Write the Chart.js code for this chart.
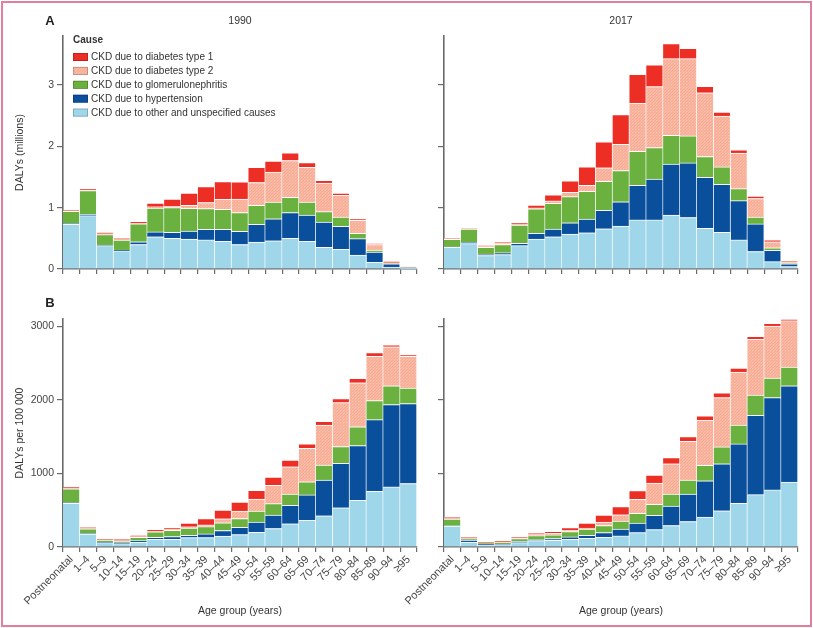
<!DOCTYPE html>
<html>
<head>
<meta charset="utf-8">
<script src="https://cdn.jsdelivr.net/npm/chart.js@4.4.1/dist/chart.umd.min.js"></script>
<style>
  html, body { margin:0; padding:0; background:#fff; }
  body { width:813px; height:628px; position:relative; overflow:hidden; }
  #frame { position:absolute; left:1px; top:1px; width:807px; height:622px; border:2px solid #e2809b; box-sizing:content-box; }
  canvas { position:absolute; }
</style>
</head>
<body>
<div id="frame"></div>
<canvas id="tl" width="430" height="279" style="left:0;top:0;width:430px;height:279px"></canvas>
<canvas id="tr" width="413" height="279" style="left:400px;top:0;width:413px;height:279px"></canvas>
<canvas id="bl" width="430" height="338" style="left:0;top:290px;width:430px;height:338px"></canvas>
<canvas id="br" width="413" height="338" style="left:400px;top:290px;width:413px;height:338px"></canvas>
<script>
// ---------- DATA ----------
const ageGroups = ['Postneonatal','1–4','5–9','10–14','15–19','20–24','25–29','30–34','35–39','40–44','45–49','50–54','55–59','60–64','65–69','70–74','75–79','80–84','85–89','90–94','≥95'];
const causeNames = ['CKD due to other and unspecified causes','CKD due to hypertension','CKD due to glomerulonephritis','CKD due to diabetes type 2','CKD due to diabetes type 1'];

// Panel A: DALYs (millions), 1990
const count1990Other = [0.73,0.87,0.38,0.295,0.40,0.525,0.50,0.49,0.475,0.45,0.40,0.44,0.46,0.50,0.45,0.355,0.32,0.225,0.11,0.03,0.005];
const count1990Hyp   = [0.01,0.02,0.01,0.015,0.045,0.08,0.10,0.13,0.17,0.195,0.215,0.29,0.36,0.42,0.43,0.41,0.375,0.27,0.165,0.055,0.02];
const count1990Glom  = [0.20,0.39,0.17,0.16,0.29,0.39,0.40,0.37,0.34,0.33,0.305,0.31,0.27,0.25,0.21,0.17,0.15,0.085,0.035,0.005,0.002];
const count1990T2    = [0.01,0.01,0.015,0.025,0.015,0.02,0.02,0.05,0.10,0.16,0.22,0.37,0.49,0.60,0.57,0.465,0.355,0.215,0.09,0.01,0.003];
const count1990T1    = [0.01,0.02,0.02,0.012,0.025,0.06,0.12,0.20,0.26,0.29,0.28,0.25,0.18,0.125,0.075,0.045,0.04,0.025,0.015,0.025,0.002];

// Panel A: DALYs (millions), 2017
const count2017Other = [0.355,0.415,0.22,0.235,0.38,0.486,0.525,0.57,0.59,0.655,0.70,0.80,0.80,0.88,0.84,0.665,0.60,0.475,0.285,0.12,0.04];
const count2017Hyp   = [0.005,0.02,0.025,0.03,0.04,0.095,0.125,0.185,0.225,0.30,0.395,0.565,0.665,0.83,0.89,0.83,0.78,0.64,0.45,0.185,0.045];
const count2017Glom  = [0.125,0.215,0.11,0.135,0.295,0.40,0.42,0.425,0.45,0.475,0.51,0.555,0.515,0.47,0.44,0.34,0.285,0.195,0.11,0.04,0.005];
const count2017T2    = [0.01,0.01,0.01,0.02,0.015,0.015,0.04,0.07,0.10,0.22,0.43,0.78,0.995,1.25,1.26,1.04,0.83,0.58,0.305,0.10,0.02];
const count2017T1    = [0.01,0.01,0.015,0.015,0.02,0.045,0.10,0.19,0.30,0.425,0.485,0.475,0.355,0.245,0.17,0.105,0.065,0.055,0.04,0.03,0.015];

// Panel B: DALYs per 100 000, 1990
const rate1990Other = [595,174,59,46,68,105,105,128,128,150,169,200,251,315,361,425,534,635,758,817,863];
const rate1990Hyp   = [8,8,8,12,18,27,37,32,50,74,100,138,183,251,347,484,603,744,973,1119,1087];
const rate1990Glom  = [187,64,24,20,46,73,86,96,100,105,119,151,155,155,178,205,228,256,260,256,210];
const rate1990T2    = [10,8,6,8,8,12,10,18,22,55,101,164,251,370,456,544,598,598,603,529,434];
const rate1990T1    = [13,10,13,20,20,16,27,50,87,118,123,119,110,92,60,50,55,59,50,28,18];

// Panel B: DALYs per 100 000, 2017
const rate2017Other = [283,68,23,32,59,87,91,105,119,132,151,196,237,292,347,406,493,594,712,776,881];
const rate2017Hyp   = [5,23,18,9,19,13,23,32,41,64,91,128,192,265,374,494,639,808,1078,1256,1311];
const rate2017Glom  = [91,19,9,18,36,55,50,73,82,96,110,133,151,164,188,210,229,256,274,265,255];
const rate2017T2    = [9,9,5,9,9,14,23,14,14,46,86,191,288,411,529,611,671,721,758,708,631];
const rate2017T1    = [18,13,9,10,9,18,23,41,68,96,110,119,109,83,64,64,64,55,41,36,18];

const countTicks = [0,1,2,3];
const rateTicks = [0,1000,2000,3000];

// ---------- STYLE ----------
const FONT = '"Liberation Sans", Arial, sans-serif';
Chart.defaults.font.family = FONT;
const AXIS = '#6a6a6a';

function t2Pattern() {
  const c = document.createElement('canvas');
  c.width = 3; c.height = 3;
  const x = c.getContext('2d');
  x.fillStyle = '#f9b6a1'; x.fillRect(0,0,3,3);
  x.fillStyle = '#f5aa94';
  x.fillRect(0,0,1,1); x.fillRect(2,1,1,1); x.fillRect(1,2,1,1);
  x.fillStyle = '#fbc2b0';
  x.fillRect(1,0,1,1);
  return x.createPattern(c, 'repeat');
}
const colors = ['#9fd6e9', '#0a4f9b', '#6bb13f', null, '#ec2e25'];

function datasets(series) {
  const pat = t2Pattern();
  return series.map((d, i) => ({
    label: causeNames[i],
    data: d,
    backgroundColor: i === 3 ? pat : colors[i],
    borderColor: 'rgba(255,255,255,0.85)',
    borderWidth: {top: 1, right: 1, left: 0, bottom: 0},
    borderSkipped: false,
    barPercentage: 1,
    categoryPercentage: 1,
    stack: 's'
  }));
}

const textPlugin = {
  id: 'panelText',
  afterDraw(chart, args, o) {
    const ctx = chart.ctx, ca = chart.chartArea;
    ctx.save();
    ctx.textBaseline = 'middle';
    if (o.year) {
      ctx.font = '10.5px ' + FONT;
      ctx.fillStyle = '#333';
      ctx.textAlign = 'center';
      ctx.fillText(o.year, (ca.left + ca.right) / 2, o.yearY);
    }
    if (o.letter) {
      ctx.font = 'bold 13px ' + FONT;
      ctx.fillStyle = '#222';
      ctx.textAlign = 'center';
      ctx.fillText(o.letter, o.letterX, o.letterY);
    }
    if (o.legend) {
      ctx.textAlign = 'left';
      ctx.font = 'bold 10px ' + FONT;
      ctx.fillStyle = '#333';
      ctx.fillText('Cause', 73, 40);
      ctx.font = '10px ' + FONT;
      const ds = chart.data.datasets;
      for (let k = 0; k < 5; k++) {
        const d = ds[4 - k];
        const y = 57 + k * 13.9;
        ctx.fillStyle = d.backgroundColor;
        ctx.fillRect(73, y - 4, 15, 8);
        ctx.strokeStyle = 'rgba(0,0,0,0.25)';
        ctx.lineWidth = 0.8;
        ctx.strokeRect(73.4, y - 3.6, 14.2, 7.2);
        ctx.fillStyle = '#333';
        ctx.fillText(d.label, 91, y + 0.5);
      }
    }
    ctx.restore();
  }
};

function makeChart(id, series, cfg) {
  const tickVals = cfg.tickVals;
  return new Chart(document.getElementById(id), {
    type: 'bar',
    data: { labels: ageGroups, datasets: datasets(series) },
    plugins: [textPlugin],
    options: {
      responsive: false,
      animation: false,
      devicePixelRatio: 1,
      layout: { padding: cfg.padding },
      plugins: {
        legend: { display: false },
        tooltip: { enabled: false },
        panelText: cfg.text
      },
      scales: {
        x: {
          stacked: true,
          offset: true,
          grid: { display: true, offset: true, drawOnChartArea: false, drawTicks: true, tickLength: 5, color: AXIS, lineWidth: 1.2 },
          border: { display: true, color: AXIS, width: 1.6 },
          ticks: cfg.xLabels ? {
            display: true, autoSkip: false, minRotation: 45, maxRotation: 45,
            font: { size: 11 }, color: '#444', padding: 1
          } : { display: false },
          title: cfg.xLabels ? {
            display: true, text: 'Age group (years)', color: '#333',
            font: { size: 10.5 }, padding: { top: 0, bottom: 10.5 }
          } : { display: false },
          afterFit: s => { s.height = cfg.xHeight; }
        },
        y: {
          stacked: true,
          min: 0,
          max: cfg.yMax,
          afterBuildTicks: s => { s.ticks = tickVals.map(v => ({ value: v })); },
          grid: { display: true, drawOnChartArea: false, drawTicks: true, tickLength: 6, color: AXIS, lineWidth: 1.2 },
          border: { display: true, color: AXIS, width: 1.6 },
          ticks: cfg.yLabels ? {
            display: true, font: { size: 10.5 }, color: '#444', padding: 3,
            callback: v => String(v)
          } : { display: false },
          title: cfg.yLabels ? {
            display: true, text: cfg.yTitle, color: '#333',
            font: { size: 10.5 }, padding: { top: 13.7, bottom: 0 }
          } : { display: false },
          afterFit: s => { s.width = cfg.yWidth; }
        }
      }
    }
  });
}

makeChart('tl', [count1990Other, count1990Hyp, count1990Glom, count1990T2, count1990T1], {
  padding: { top: 36, right: 13, bottom: 0, left: 0 },
  yMax: 3.8, tickVals: countTicks, yLabels: true, yTitle: 'DALYs (millions)', yWidth: 63,
  xLabels: false, xHeight: 10,
  text: { year: '1990', yearY: 21.5, letter: 'A', letterX: 50, letterY: 21, legend: true }
});
makeChart('tr', [count2017Other, count2017Hyp, count2017Glom, count2017T2, count2017T1], {
  padding: { top: 36, right: 15, bottom: 0, left: 0 },
  yMax: 3.8, tickVals: countTicks, yLabels: false, yWidth: 44,
  xLabels: false, xHeight: 10,
  text: { year: '2017', yearY: 21.5 }
});
makeChart('bl', [rate1990Other, rate1990Hyp, rate1990Glom, rate1990T2, rate1990T1], {
  padding: { top: 29, right: 13, bottom: 0, left: 0 },
  yMax: 3100, tickVals: rateTicks, yLabels: true, yTitle: 'DALYs per 100 000', yWidth: 63,
  xLabels: true, xHeight: 81,
  text: { letter: 'B', letterX: 50, letterY: 13.5 }
});
makeChart('br', [rate2017Other, rate2017Hyp, rate2017Glom, rate2017T2, rate2017T1], {
  padding: { top: 29, right: 15, bottom: 0, left: 0 },
  yMax: 3100, tickVals: rateTicks, yLabels: false, yWidth: 44,
  xLabels: true, xHeight: 81,
  text: {}
});
</script>
</body>
</html>
